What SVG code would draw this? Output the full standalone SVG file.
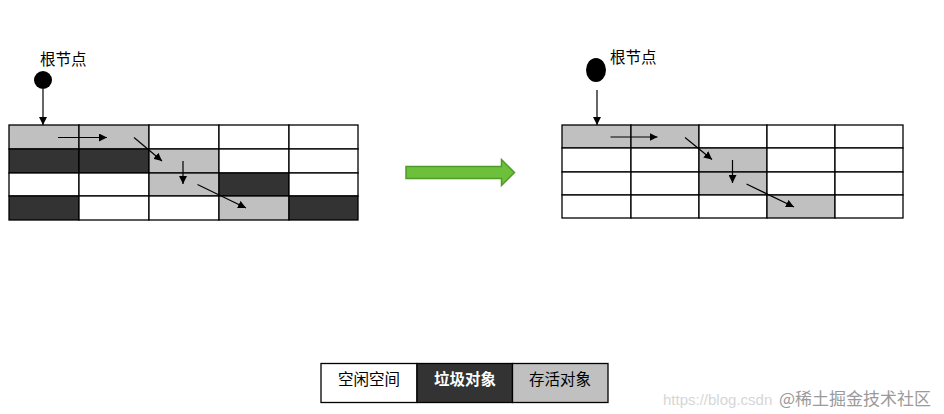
<svg xmlns="http://www.w3.org/2000/svg" width="944" height="414" viewBox="0 0 944 414">
<defs>
<marker id="ah" viewBox="0 0 10 10" refX="10" refY="5" markerWidth="8" markerHeight="8" markerUnits="userSpaceOnUse" orient="auto">
<path d="M0,0 L10,5 L0,10 z" fill="#000"/>
</marker>
<style>
.c{stroke:#000;stroke-width:1.3}
.w{fill:#fff}
.g{fill:#c0c0c0}
.d{fill:#333333}
.a{stroke:#000;stroke-width:1.2;fill:none;marker-end:url(#ah)}
.t{font-family:"Noto Sans CJK SC","Liberation Sans",sans-serif;font-size:15.5px;fill:#000}
</style>
</defs>
<rect width="944" height="414" fill="#fff"/>
<g id="left-root">
<text class="t" x="40" y="65" font-size="16">根节点</text>
<circle cx="43" cy="80" r="9" fill="#000"/>
</g>
<g id="left-grid">
<rect class="c g" x="9" y="125" width="70" height="24"/>
<rect class="c g" x="79" y="125" width="70" height="24"/>
<rect class="c w" x="149" y="125" width="70" height="24"/>
<rect class="c w" x="219" y="125" width="70" height="24"/>
<rect class="c w" x="289" y="125" width="69" height="24"/>
<rect class="c d" x="9" y="149" width="70" height="24"/>
<rect class="c d" x="79" y="149" width="70" height="24"/>
<rect class="c g" x="149" y="149" width="70" height="24"/>
<rect class="c w" x="219" y="149" width="70" height="24"/>
<rect class="c w" x="289" y="149" width="69" height="24"/>
<rect class="c w" x="9" y="173" width="70" height="23"/>
<rect class="c w" x="79" y="173" width="70" height="23"/>
<rect class="c g" x="149" y="173" width="70" height="23"/>
<rect class="c d" x="219" y="173" width="70" height="23"/>
<rect class="c w" x="289" y="173" width="69" height="23"/>
<rect class="c d" x="9" y="196" width="70" height="24"/>
<rect class="c w" x="79" y="196" width="70" height="24"/>
<rect class="c w" x="149" y="196" width="70" height="24"/>
<rect class="c g" x="219" y="196" width="70" height="24"/>
<rect class="c d" x="289" y="196" width="69" height="24"/>
</g>
<g id="right-root">
<text class="t" x="610" y="63" font-size="16">根节点</text>
<ellipse cx="596" cy="70" rx="10" ry="12" fill="#000"/>
</g>
<g id="right-grid">
<rect class="c g" x="562" y="125" width="69" height="23"/>
<rect class="c g" x="631" y="125" width="68" height="23"/>
<rect class="c w" x="699" y="125" width="68" height="23"/>
<rect class="c w" x="767" y="125" width="68" height="23"/>
<rect class="c w" x="835" y="125" width="68" height="23"/>
<rect class="c w" x="562" y="148" width="69" height="24"/>
<rect class="c w" x="631" y="148" width="68" height="24"/>
<rect class="c g" x="699" y="148" width="68" height="24"/>
<rect class="c w" x="767" y="148" width="68" height="24"/>
<rect class="c w" x="835" y="148" width="68" height="24"/>
<rect class="c w" x="562" y="172" width="69" height="23"/>
<rect class="c w" x="631" y="172" width="68" height="23"/>
<rect class="c g" x="699" y="172" width="68" height="23"/>
<rect class="c w" x="767" y="172" width="68" height="23"/>
<rect class="c w" x="835" y="172" width="68" height="23"/>
<rect class="c w" x="562" y="195" width="69" height="23"/>
<rect class="c w" x="631" y="195" width="68" height="23"/>
<rect class="c w" x="699" y="195" width="68" height="23"/>
<rect class="c g" x="767" y="195" width="68" height="23"/>
<rect class="c w" x="835" y="195" width="68" height="23"/>
</g>
<g id="transition-arrow">
<path d="M406,166.5 L501.5,166.5 L501.5,159.5 L514.5,172.5 L501.5,185.5 L501.5,178.5 L406,178.5 z" fill="#6cc03a" stroke="#4f9a2a" stroke-width="1.5" stroke-linejoin="miter"/>
</g>
<g id="connectors">
<line class="a" x1="43" y1="89" x2="43" y2="125"/>
<line class="a" x1="58" y1="137.5" x2="107" y2="137.5"/>
<line class="a" x1="134" y1="137.5" x2="162" y2="161"/>
<line class="a" x1="183" y1="161" x2="183" y2="184"/>
<line class="a" x1="197.5" y1="184.5" x2="246" y2="208"/>
<line class="a" x1="597" y1="90" x2="597" y2="125"/>
<line class="a" x1="610.5" y1="137" x2="657.5" y2="137"/>
<line class="a" x1="685" y1="137.5" x2="712" y2="159.5"/>
<line class="a" x1="732.5" y1="160" x2="732.5" y2="183"/>
<line class="a" x1="746.5" y1="184" x2="794" y2="207"/>
</g>
<g id="legend">
<rect class="c w" x="321" y="363.5" width="96" height="39"/>
<rect class="c d" x="417" y="363.5" width="95.5" height="39"/>
<rect class="c g" x="512.5" y="363.5" width="95.5" height="39"/>
<text class="t" x="369" y="377.5" text-anchor="middle" dominant-baseline="central">空闲空间</text>
<text class="t" x="465" y="377.5" text-anchor="middle" dominant-baseline="central" style="fill:#fff;font-weight:bold">垃圾对象</text>
<text class="t" x="560" y="377.5" text-anchor="middle" dominant-baseline="central">存活对象</text>
</g>
<g id="watermark">
<text x="663" y="405" font-family="Liberation Sans, sans-serif" font-size="15" fill="#d6d6d6">https://blog.csdn</text>
<text x="779" y="405" font-family="Noto Sans CJK SC, sans-serif" font-size="17" fill="#9a9a9a">@稀土掘金技术社区</text>
</g>
</svg>
